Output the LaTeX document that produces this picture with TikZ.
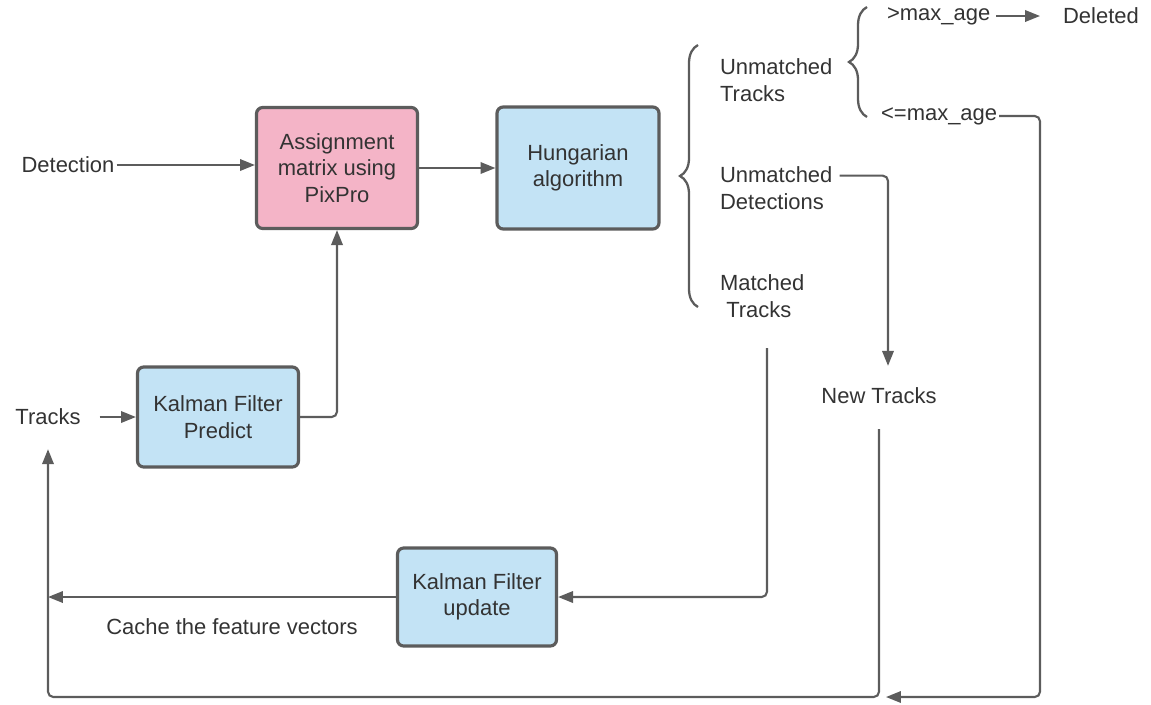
\documentclass[tikz,border=0pt]{standalone}
\usepackage{fontspec}
\setmainfont{Liberation Sans}
\usetikzlibrary{arrows.meta, positioning, decorations.pathreplacing}

\definecolor{boxpink}{HTML}{F4B4C7}
\definecolor{boxblue}{HTML}{C3E3F5}
\definecolor{linegray}{HTML}{5C5C5C}
\definecolor{textgray}{HTML}{333333}

\begin{document}
\begin{tikzpicture}[x=0.02cm, y=-0.02cm,
				   every node/.style={font=\fontsize{12.5}{15}\selectfont, text=textgray, inner sep=1pt},
				   block/.style={draw=linegray, line width=1.8pt, rounded corners=3.5pt, align=center},
				   flow/.style={draw=linegray, line width=1.2pt, rounded corners=3pt},
				   curly/.style={draw=linegray, line width=1.3pt, decorate, decoration={brace, amplitude=0.36cm}},
				   >={Triangle[length=8.5pt, width=6.5pt]}]
\useasboundingbox (0,0) rectangle (1151,704);

% boxes
\node[block, fill=boxpink, minimum width=3.22cm, minimum height=2.42cm] (assign) at (337,168) {Assignment\\matrix using\\PixPro};
\node[block, fill=boxblue, minimum width=3.24cm, minimum height=2.44cm] (hung) at (578,168) {Hungarian\\algorithm};
\node[block, fill=boxblue, minimum width=3.22cm, minimum height=2cm] (kfp) at (218,417) {Kalman Filter\\Predict};
\node[block, fill=boxblue, minimum width=3.18cm, minimum height=1.96cm] (kfu) at (477,597) {Kalman Filter\\update};

% plain labels
\node (det) at (68,165) {Detection};
\node (trk) at (48,417) {Tracks};
\node[align=left, anchor=west] (umt) at (718,80) {Unmatched\\Tracks};
\node[align=left, anchor=west] (umd) at (718,188) {Unmatched\\Detections};
\node[align=left, anchor=west] (mt) at (718,296) {Matched\\\hspace*{3.5pt}Tracks};
\node[anchor=west] (gt) at (885,16) {>max\_age};
\node[anchor=west] (del) at (1061,16) {Deleted};
\node[anchor=west] (le) at (879,116) {<=max\_age};
\node (nt) at (879,396) {New Tracks};
\node (cache) at (232,627) {Cache the feature vectors};

% braces
\draw[curly] (698,307) -- (698,45);
\draw[curly] (867,117) -- (867,7);

% corners of the return paths
\coordinate (mdown) at (767,348);
\coordinate (rc) at (1040,697);
\coordinate (join) at (886,697);
\coordinate (loopL) at (48,697);

% connectors
\draw[flow, ->] (det) -- (det -| assign.west);
\draw[flow, ->] (assign) -- (hung);
\draw[flow, ->, shorten <=0.34cm] (trk) -- (kfp);
\draw[flow, ->] (kfp.east) -| (assign.south);
\draw[flow, ->, shorten <=0.08cm, shorten >=0.42cm] (gt.east) -- (del.west);
\draw[flow, ->, shorten >=0.4cm] ([xshift=0.1cm, yshift=-0.22cm]umd.north east) -| ([xshift=0.18cm]nt.north);
\draw[flow, ->] (le.east) -| (rc) -- (join);
\draw[flow, ->] (mdown) |- (kfu.east);
\draw[flow, ->] (kfu.west) -- (kfu.west -| loopL);
\draw[flow, ->, shorten <=0.46cm, shorten >=0.44cm] (nt.south) |- (loopL) -- (trk);
\end{tikzpicture}
\end{document}
